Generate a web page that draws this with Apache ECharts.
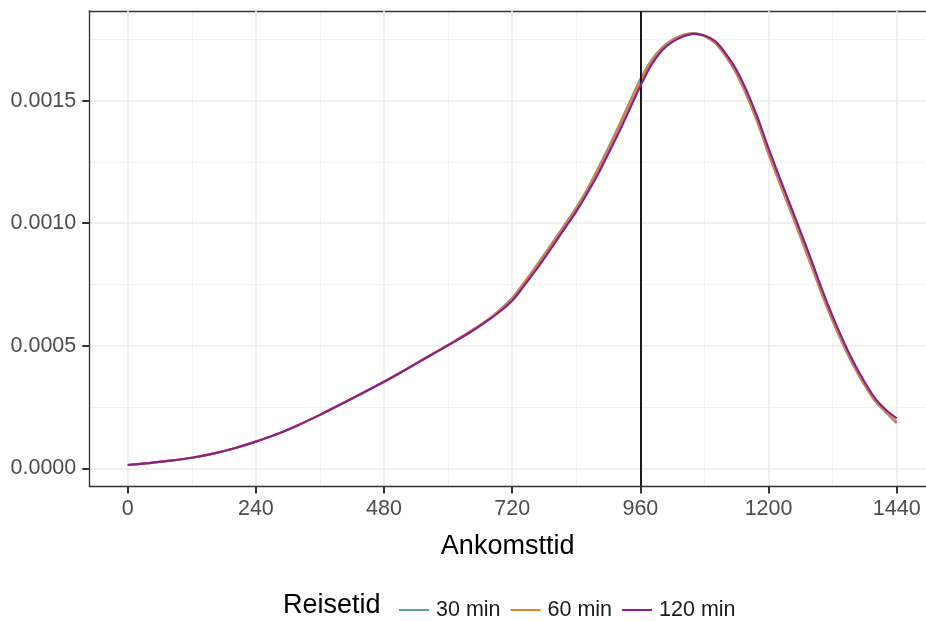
<!DOCTYPE html>
<html>
<head>
<meta charset="utf-8">
<script src="https://cdn.jsdelivr.net/npm/echarts@6/dist/echarts.min.js"></script>
<style>
html,body{margin:0;padding:0;background:#fff;}
#chart{width:926px;height:621px;}
</style>
</head>
<body>
<div id="chart"></div>
<script>
// ---- data ----
const times = [0, 40, 80, 120, 160, 200, 240, 280, 320, 360, 400, 440, 480, 520, 560, 600, 640, 680, 700, 720, 740, 760, 780, 800, 820, 840, 860, 880, 900, 920, 940, 960, 980, 1000, 1020, 1040, 1060, 1080, 1100, 1120, 1140, 1160, 1180, 1200, 1220, 1240, 1260, 1280, 1300, 1320, 1340, 1360, 1380, 1400, 1420, 1440];
const min30 = [0.0000135, 0.000021, 0.000031, 0.000043, 0.000060, 0.000082, 0.000109, 0.000140, 0.000177, 0.000218, 0.000262, 0.000307, 0.000353, 0.000402, 0.000453, 0.000503,
  0.000557, 0.000616, 0.000654, 0.000696, 0.000752, 0.000811, 0.000873, 0.000936, 0.001000, 0.001065, 0.001137, 0.001221, 0.001308, 0.001400, 0.001495, 0.001588, 0.001664, 0.001716, 0.001749, 0.001769, 0.001776, 0.001763, 0.001735, 0.001680,
  0.001609, 0.001515, 0.001406, 0.001281, 0.001167, 0.001055, 0.000941, 0.000826, 0.000708, 0.000600, 0.000502, 0.000414, 0.000338, 0.000272, 0.000227, 0.000184];
const min60 = [0.0000135, 0.000021, 0.000031, 0.000043, 0.000060, 0.000082, 0.000109, 0.000140, 0.000177, 0.000218, 0.000262, 0.000307, 0.000353, 0.000402, 0.000453, 0.000503,
  0.000556, 0.000615, 0.000651, 0.000692, 0.000748, 0.000806, 0.000868, 0.000931, 0.000995, 0.001060, 0.001131, 0.001214, 0.001299, 0.001392, 0.001486, 0.001580, 0.001658, 0.001712, 0.001746, 0.001767, 0.001775, 0.001764, 0.001737, 0.001684,
  0.001614, 0.001521, 0.001413, 0.001288, 0.001174, 0.001062, 0.000948, 0.000833, 0.000715, 0.000606, 0.000507, 0.000419, 0.000342, 0.000276, 0.000230, 0.000190];
const min120 = [0.0000135, 0.000021, 0.000031, 0.000043, 0.000060, 0.000082, 0.000109, 0.000140, 0.000177, 0.000218, 0.000262, 0.000307, 0.000353, 0.000402, 0.000452, 0.000502,
  0.000553, 0.000612, 0.000645, 0.000684, 0.000738, 0.000796, 0.000857, 0.000920, 0.000984, 0.001048, 0.001120, 0.001198, 0.001284, 0.001372, 0.001466, 0.001560, 0.001644, 0.001704, 0.001740, 0.001762, 0.001773, 0.001766, 0.001743, 0.001692,
  0.001625, 0.001535, 0.001428, 0.001305, 0.001190, 0.001078, 0.000965, 0.000850, 0.000730, 0.000620, 0.000520, 0.000430, 0.000352, 0.000284, 0.000238, 0.000204];
const seriesNames = ['30 min', '60 min', '120 min'];
const xMajorTicks = [0, 240, 480, 720, 960, 1200, 1440];
const xMinorTicks = [120, 360, 600, 840, 1080, 1320];
const yMajorTicks = [0, 0.0005, 0.0010, 0.0015];
const yMinorTicks = [0.00025, 0.00075, 0.00125, 0.00175];
const refLineX = 960;
const xTitle = 'Ankomsttid';
const legendTitle = 'Reisetid';

// ---- chart ----
const FONT = '"Liberation Sans", Arial, sans-serif';
const colors = ['#5f9ea8', '#e6822a', '#8c1f8c'];
const pair = arr => times.map((t, i) => [t, arr[i]]);
const chart = echarts.init(document.getElementById('chart'), null, {renderer: 'canvas'});

const mkSeries = (name, arr, idx) => ({
  name: name,
  type: 'line',
  data: pair(arr),
  smooth: 0.3,
  symbol: 'none',
  showSymbol: false,
  z: 3 + idx,
  lineStyle: {color: colors[idx], width: 2.2},
  itemStyle: {color: colors[idx]},
  emphasis: {disabled: true}
});

const s = [mkSeries(seriesNames[0], min30, 0), mkSeries(seriesNames[1], min60, 1), mkSeries(seriesNames[2], min120, 2)];
s[0].markLine = {
  silent: true,
  animation: false,
  symbol: 'none',
  label: {show: false},
  lineStyle: {color: '#1a1a1a', width: 2, type: 'solid'},
  data: [{xAxis: refLineX}]
};

const AX = {color: '#333333', width: 1.3};

chart.setOption({
  animation: false,
  backgroundColor: '#ffffff',
  textStyle: {fontFamily: FONT},
  grid: {
    left: 89.25, top: 11, right: 0, height: 475.6,
    show: false,
    containLabel: false
  },
  xAxis: [{
    type: 'value', min: -72, max: 1494.8, position: 'bottom',
    name: xTitle, nameLocation: 'middle', nameGap: 46,
    nameTextStyle: {fontSize: 27, color: '#000', fontFamily: FONT},
    axisLine: {show: true, onZero: false, lineStyle: AX},
    axisTick: {show: true, length: 7, lineStyle: {color: '#333333', width: 2}, customValues: xMajorTicks},
    axisLabel: {show: true, customValues: xMajorTicks, fontSize: 21.5, color: '#4d4d4d', margin: 11, fontFamily: FONT,
      formatter: v => String(v)},
    splitLine: {show: true, lineStyle: {color: '#ebebeb', width: 1.5}},
    z: 2
  }, {
    type: 'value', min: -72, max: 1494.8, position: 'top',
    axisLine: {show: true, onZero: false, lineStyle: AX},
    axisTick: {show: false, customValues: xMinorTicks},
    axisLabel: {show: false},
    splitLine: {show: true, lineStyle: {color: '#f2f2f2', width: 1}},
    z: 1
  }],
  yAxis: [{
    type: 'value', min: -0.0000747, max: 0.001866, position: 'left',
    axisLine: {show: true, onZero: false, lineStyle: AX},
    axisTick: {show: true, length: 7, lineStyle: {color: '#333333', width: 2}, customValues: yMajorTicks},
    axisLabel: {show: true, customValues: yMajorTicks, fontSize: 21.5, color: '#4d4d4d', margin: 13, fontFamily: FONT,
      formatter: v => Number(v).toFixed(4)},
    splitLine: {show: true, lineStyle: {color: '#ebebeb', width: 1.5}},
    z: 2
  }, {
    type: 'value', min: -0.0000747, max: 0.001866, position: 'right',
    axisLine: {show: false, onZero: false},
    axisTick: {show: false, customValues: yMinorTicks},
    axisLabel: {show: false},
    splitLine: {show: true, lineStyle: {color: '#f2f2f2', width: 1}},
    z: 1
  }],
  legend: {
    show: true,
    data: seriesNames,
    left: 394, top: 594,
    orient: 'horizontal',
    itemWidth: 30, itemHeight: 14, itemGap: 10,
    icon: 'path://M0,6 L30,6 L30,8 L0,8 Z',
    textStyle: {fontSize: 21.5, color: '#1a1a1a', fontFamily: FONT, padding: [0, 0, 0, 2]},
    selectedMode: false
  },
  graphic: [{
    type: 'text', left: 283, top: 592,
    style: {text: legendTitle, fontSize: 27, fill: '#000', fontFamily: FONT}
  }],
  series: s
});
</script>
</body>
</html>
